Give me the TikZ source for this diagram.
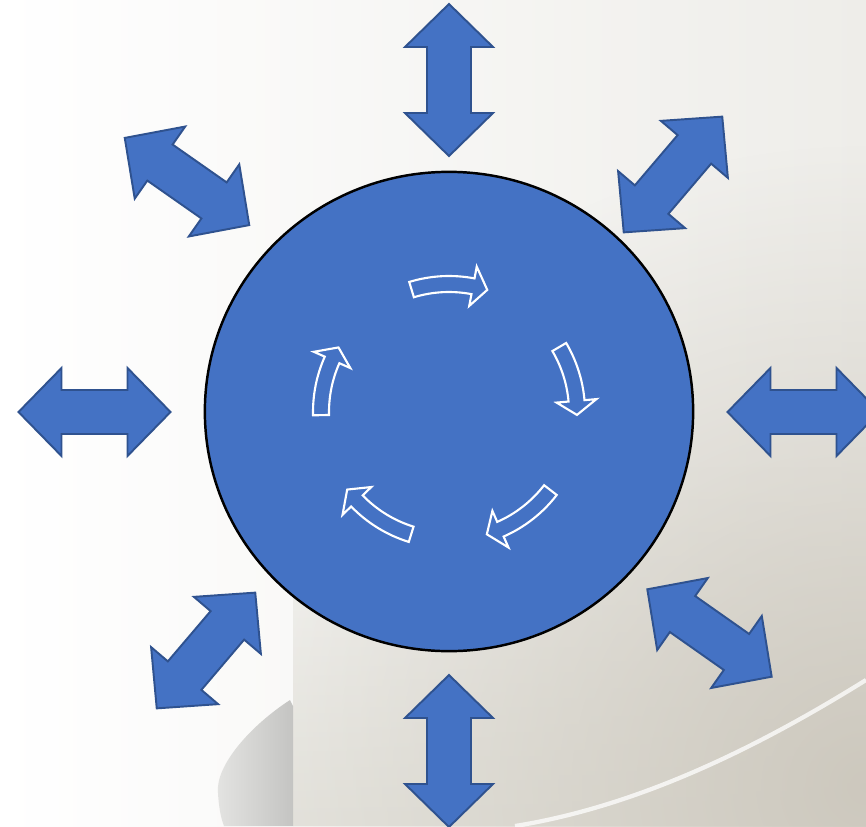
\documentclass[tikz,border=0pt]{standalone}
\usetikzlibrary{fadings}
\definecolor{obl}{HTML}{4472C4}
\definecolor{obd}{HTML}{2F528F}
\definecolor{bgR}{HTML}{EEEDE9}
\definecolor{beige}{HTML}{CAC5BA}
\definecolor{pale}{HTML}{E6E5DF}
\definecolor{lobeL}{HTML}{E4E4E2}
\definecolor{lobeR}{HTML}{C4C4C2}
\tikzfading[name=radfade, inner color=transparent!0, outer color=transparent!100]
\newcommand{\cycarr}[3]{%
  \draw[cycarrow] (#1:136) arc[start angle=#1, end angle=#2, radius=1.36cm]
    -- (#2:148) -- (#3:128) -- (#2:108) -- (#2:120)
    arc[start angle=#2, end angle=#1, radius=1.20cm] -- cycle;}
\begin{document}
\begin{tikzpicture}[x=0.01cm,y=0.01cm,
  bigarrow/.style={fill=obl, draw=obd, line width=0.55pt, line join=miter},
  cycarrow/.style={draw=white, line width=0.6pt, line join=miter},
  dblarrow/.pic={\path[bigarrow] (-76,0) -- (-33,44) -- (-33,22) -- (33,22) -- (33,44)
      -- (76,0) -- (33,-44) -- (33,-22) -- (-33,-22) -- (-33,-44) -- cycle;}]
% background
\useasboundingbox (0,0) rectangle (866,826);
\fill[left color=white, right color=bgR] (0,0) rectangle (866,826);
\begin{scope}
  \clip (293,0) rectangle (866,826);
  \fill[pale, path fading=north] (293,0) rectangle (866,360);
  \fill[beige, path fading=radfade, fill opacity=0.9] (866,40) ellipse [x radius=6.6cm, y radius=6.4cm];
\end{scope}
\shade[left color=lobeL, right color=lobeR]
  (290,126) .. controls (250,100) and (215,60) .. (218,33)
  .. controls (219,15) and (222,5) .. (224,0) -- (293,0) -- (293,120) -- cycle;
\draw[white, line width=1.2pt, opacity=0.75] (866,146) .. controls (760,80) and (640,20) .. (515,0);
% big double arrows
\pic[rotate=90] at (449,746) {dblarrow};
\pic[rotate=90] at (449,75) {dblarrow};
\pic at (94.5,414) {dblarrow};
\pic at (803.5,414) {dblarrow};
\pic[rotate=-35] at (187,644.5) {dblarrow};
\pic[rotate=49.6] at (673,651.5) {dblarrow};
\pic[rotate=49.6] at (206,175.5) {dblarrow};
\pic[rotate=-35.1] at (709.5,193) {dblarrow};
% central circle
\draw[fill=obl, line width=0.7pt] (449,414.5) ellipse [x radius=2.44cm, y radius=2.395cm];
% cycle arrows
\begin{scope}[shift={(449,414)}]
\cycarr{107}{79.2}{72.6}
\cycarr{30.5}{5}{-1.3}
\cycarr{-37.6}{-66.3}{-72.8}
\cycarr{-107.2}{-136}{-142.7}
\cycarr{181.4}{156}{149.7}
\end{scope}
\end{tikzpicture}
\end{document}
